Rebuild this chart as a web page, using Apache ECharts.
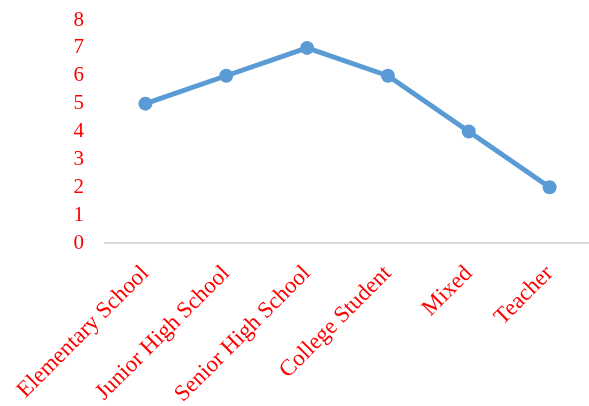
<!DOCTYPE html>
<html><head><meta charset="utf-8">
<script src="https://cdn.jsdelivr.net/npm/echarts@6/dist/echarts.min.js"></script>
<style>html,body{margin:0;padding:0;background:#fff}#c{width:589px;height:406px}</style>
</head><body><div id="c"></div>
<script>
const categories = ["Elementary School","Junior High School","Senior High School","College Student","Mixed","Teacher"];
const values = [5, 6, 7, 6, 4, 2];
const yTicks = [0, 8, 1];
const chart = echarts.init(document.getElementById('c'), null, {renderer:'canvas'});
chart.setOption({
  animation:false,
  backgroundColor:'#fff',
  grid:{left:105,right:-1,top:20,bottom:163,containLabel:false,outerBoundsMode:'none'},
  xAxis:{type:'category',data:categories,boundaryGap:true,
    axisLine:{show:true,lineStyle:{color:'#d9d9d9',width:2}},
    axisTick:{show:false},
    axisLabel:{rotate:45,interval:0,margin:27,color:'#ff0000',fontFamily:'Liberation Serif',fontSize:23}},
  yAxis:{type:'value',min:yTicks[0],max:yTicks[1],interval:yTicks[2],
    axisLine:{show:false},axisTick:{show:false},splitLine:{show:false},
    axisLabel:{margin:21,color:'#ff0000',fontFamily:'Liberation Serif',fontSize:21}},
  series:[{type:'line',data:values,symbol:'circle',symbolSize:14,
    lineStyle:{color:'#5b9bd5',width:5},itemStyle:{color:'#5b9bd5'}}]
});
</script></body></html>
